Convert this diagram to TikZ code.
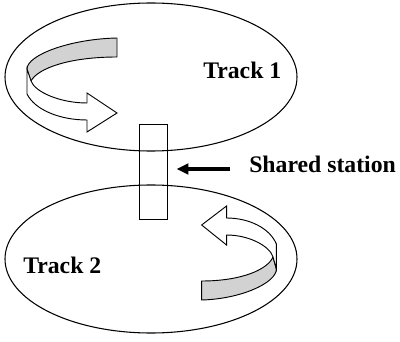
\documentclass[tikz,border=0pt]{standalone}
\usepackage{fontspec}
\setmainfont{Liberation Serif}
\usetikzlibrary{arrows.meta, shapes.geometric}

\tikzset{
  track/.style={draw, ellipse, line width=0.8pt, minimum width=219pt, minimum height=111pt},
  stationbox/.style={draw, rectangle, line width=0.7pt, minimum width=21pt, minimum height=71pt},
  lbl/.style={inner sep=0pt, font=\bfseries\fontsize{17.8pt}{20pt}\selectfont},
  pointer/.style={line width=2.4pt, -{Triangle[length=9pt, width=8pt]}},
  ribbon/.pic={
    \filldraw[fill=gray!35, line width=0.7pt] (45,-47) .. controls (-2,-46) and (-45,-30) .. (-45,-16)
      -- (-41,-4) .. controls (-34,-17) and (-2,-28) .. (45,-28) -- cycle;
    \filldraw[fill=white, line width=0.7pt] (-45,-16) -- (-45,9) .. controls (-37,25) and (-12,35) .. (15,35)
      -- (15,47) -- (45,28) -- (15,8) -- (15,18) .. controls (-12,18) and (-37,7) .. (-41,-4) -- cycle;
  }
}

\begin{document}
\begin{tikzpicture}[x=0.75pt, y=-0.75pt]
  \useasboundingbox (0,0) rectangle (400,342);
  \node[track] (track1) at (151,77) {};
  \node[track] (track2) at (151,259) {};
  \node[stationbox] (station) at (153,172) {};
  \pic at (72,85) {ribbon};
  \pic[xscale=-0.83, yscale=-1] at (239,253) {ribbon};
  \node[lbl, anchor=base west] (lbl1) at (203,79) {Track 1};
  \node[lbl, anchor=base west] (lbl2) at (23,273) {Track 2};
  \node[lbl, anchor=base west] (share) at (249,173) {Shared station};
  \coordinate (tail) at (230,169);
  \draw[pointer, shorten >=6.75pt] (tail) -- (tail -| station.east);
\end{tikzpicture}
\end{document}
